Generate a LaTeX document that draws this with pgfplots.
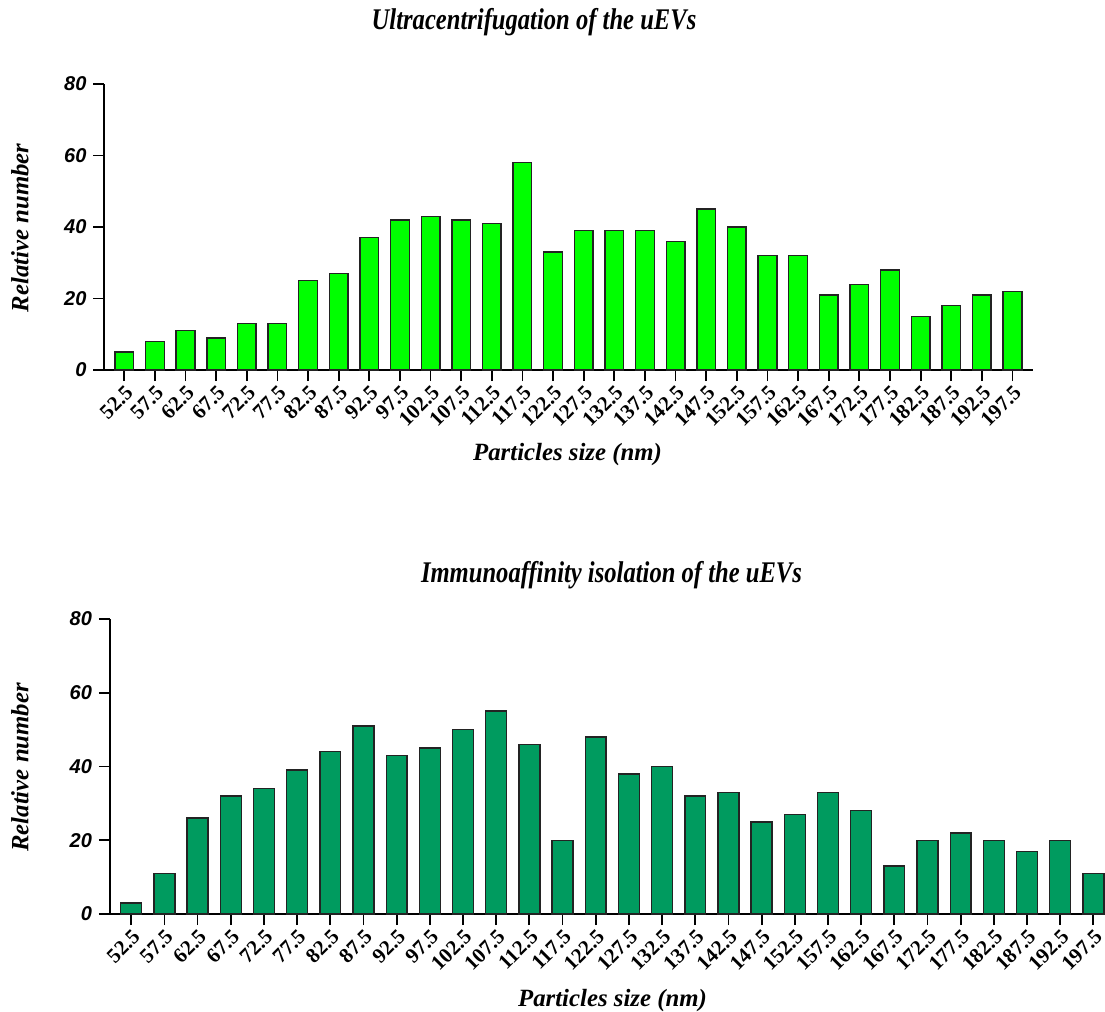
\documentclass[border=0pt]{standalone}
\usepackage{pgfplots}
\pgfplotsset{compat=1.18}
\usepackage{fontspec}
\setmainfont{Liberation Serif}
\newfontfamily\sansf{Liberation Sans}

\definecolor{barlime}{RGB}{0,255,0}
\definecolor{barjade}{RGB}{0,155,95}
\definecolor{edgegray}{RGB}{35,35,35}

\pgfplotsset{
  every axis title shift=0pt,
  histo/.style={
    scale only axis,
    axis x line=bottom, axis y line=left,
    axis line style={-, line width=1pt, black},
    ymin=0, ymax=80, ytick={0,20,40,60,80},
    xtick=data,
    xticklabels={52.5,57.5,62.5,67.5,72.5,77.5,82.5,87.5,92.5,97.5,102.5,107.5,112.5,117.5,122.5,127.5,132.5,137.5,142.5,147.5,152.5,157.5,162.5,167.5,172.5,177.5,182.5,187.5,192.5,197.5},
    tick align=outside, major tick length=5.5pt,
    tick style={line width=0.9pt, black},
    /pgf/number format/assume math mode=true,
    yticklabel style={font=\sansf\bfseries\itshape\fontsize{10}{12}\selectfont},
    xticklabel style={font=\bfseries\fontsize{10.5}{12}\selectfont, rotate=45, anchor=north east, inner sep=1pt},
    title style={font=\bfseries\itshape\fontsize{15}{17}\selectfont, anchor=center},
    xlabel style={font=\bfseries\itshape\fontsize{12.4}{14}\selectfont, anchor=base},
    ylabel style={font=\bfseries\itshape\fontsize{12.4}{14}\selectfont, anchor=center, rotate=0},
    clip=false,
  },
}

\begin{document}
\begin{tikzpicture}
\useasboundingbox (0,0) rectangle (552.5pt,-506pt);

% Ultracentrifugation
\begin{axis}[histo,
  at={(52.25pt,-185pt)}, anchor=south west,
  width=464.25pt, height=143pt,
  xmin=-0.646, xmax=29.67,
  title={\scalebox{0.82}[1]{Ultracentrifugation of the uEVs}},
  title style={at={(axis description cs:0.4626,1.217)}},
  xlabel={Particles size (nm)},
  xlabel style={at={(axis description cs:0.4987,-0.3147)}},
  ylabel={Relative number},
  ylabel style={at={(axis description cs:-0.091,0.497)}},
]
\addplot[ybar, bar width=0.61, fill=barlime, draw=edgegray, line width=0.7pt]
  coordinates {(0,5) (1,8) (2,11) (3,9) (4,13) (5,13) (6,25) (7,27) (8,37) (9,42)
   (10,43) (11,42) (12,41) (13,58) (14,33) (15,39) (16,39) (17,39) (18,36) (19,45)
   (20,40) (21,32) (22,32) (23,21) (24,24) (25,28) (26,15) (27,18) (28,21) (29,22)};
\end{axis}

% Immunoaffinity isolation
\begin{axis}[histo,
  at={(55pt,-457pt)}, anchor=south west,
  width=497.5pt, height=147.5pt,
  xmin=-0.64, xmax=29.35,
  title={\scalebox{0.82}[1]{Immunoaffinity isolation of the uEVs}},
  title style={at={(axis description cs:0.504,1.149)}},
  xlabel={Particles size (nm)},
  xlabel style={at={(axis description cs:0.505,-0.312)}},
  ylabel={Relative number},
  ylabel style={at={(axis description cs:-0.0905,0.497)}},
]
\addplot[ybar, bar width=0.63, fill=barjade, draw=edgegray, line width=0.7pt]
  coordinates {(0,3) (1,11) (2,26) (3,32) (4,34) (5,39) (6,44) (7,51) (8,43) (9,45)
   (10,50) (11,55) (12,46) (13,20) (14,48) (15,38) (16,40) (17,32) (18,33) (19,25)
   (20,27) (21,33) (22,28) (23,13) (24,20) (25,22) (26,20) (27,17) (28,20) (29,11)};
\end{axis}
\end{tikzpicture}
\end{document}
